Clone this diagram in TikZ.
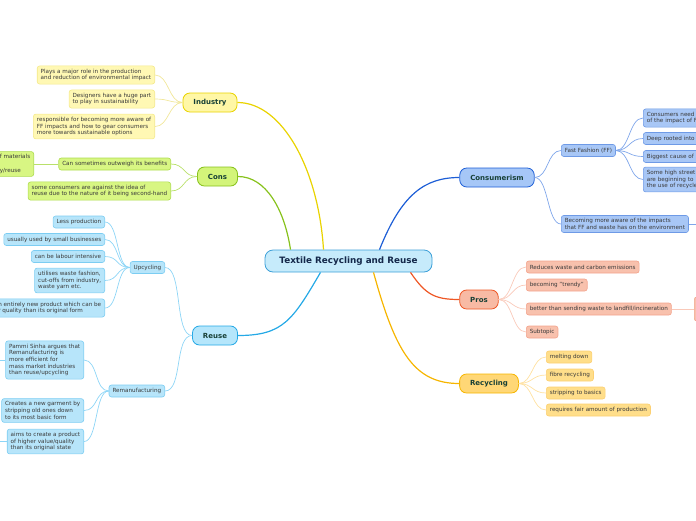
\documentclass[tikz,border=0pt]{standalone}
\usepackage{fontspec}
\setmainfont{DejaVu Sans}
\definecolor{rootfill}{HTML}{C6EBFB}
\definecolor{rootline}{HTML}{3DA0D8}
\definecolor{roottext}{HTML}{14284A}
\definecolor{topictext}{HTML}{174036}
\definecolor{leaftext}{HTML}{3A3A3A}
\definecolor{indfill}{HTML}{FFF7A6}
\definecolor{indline}{HTML}{E9D300}
\definecolor{indleaffill}{HTML}{FFF8B4}
\definecolor{indleafline}{HTML}{F4E98A}
\definecolor{indsubcol}{HTML}{F1E79A}
\definecolor{consfill}{HTML}{D3F47A}
\definecolor{consline}{HTML}{87C21C}
\definecolor{consleaffill}{HTML}{D8F683}
\definecolor{consleafline}{HTML}{ADDC4E}
\definecolor{conssubcol}{HTML}{B9E06A}
\definecolor{reusefill}{HTML}{B5E6FB}
\definecolor{reuseline}{HTML}{25A9E6}
\definecolor{reuseleaffill}{HTML}{B7E5FA}
\definecolor{reuseleafline}{HTML}{7CCDF2}
\definecolor{reusesubcol}{HTML}{8DD5F6}
\definecolor{cmrfill}{HTML}{A6C7F7}
\definecolor{cmrline}{HTML}{1D5ED6}
\definecolor{cmrleaffill}{HTML}{A8C7F6}
\definecolor{cmrleafline}{HTML}{6E9AE6}
\definecolor{cmrsubcol}{HTML}{7FA6EA}
\definecolor{prosfill}{HTML}{F8BAA4}
\definecolor{prosline}{HTML}{EE5725}
\definecolor{prosleaffill}{HTML}{F8C1AD}
\definecolor{prosleafline}{HTML}{F3A38C}
\definecolor{prossubcol}{HTML}{F9C9B9}
\definecolor{recfill}{HTML}{FFD776}
\definecolor{recline}{HTML}{F6B500}
\definecolor{recleaffill}{HTML}{FFDE8A}
\definecolor{recleafline}{HTML}{FCD072}
\definecolor{recsubcol}{HTML}{FFE1A0}
\tikzset{
	root/.style={draw=rootline, fill=rootfill, line width=0.8pt, rounded corners=8pt, minimum width=167pt, minimum height=22pt, text=roottext, font=\bfseries\fontsize{8.8}{10}\selectfont},
	topic/.style={line width=0.8pt, rounded corners=7pt, minimum height=19pt, inner xsep=10.5pt, text=topictext, font=\bfseries\fontsize{7}{8}\selectfont},
	leaf/.style={line width=0.6pt, rounded corners=2.5pt, minimum height=12pt, inner xsep=3.5pt, inner ysep=3pt, align=left, text=leaftext, font=\fontsize{5.65}{6.7}\selectfont},
	indleaf/.style={leaf, draw=indleafline, fill=indleaffill, anchor=east},
	consleaf/.style={leaf, draw=consleafline, fill=consleaffill, anchor=east},
	reuseleaf/.style={leaf, draw=reuseleafline, fill=reuseleaffill, anchor=east},
	cmrleaf/.style={leaf, draw=cmrleafline, fill=cmrleaffill, anchor=west},
	prosleaf/.style={leaf, draw=prosleafline, fill=prosleaffill, anchor=west},
	recleaf/.style={leaf, draw=recleafline, fill=recleaffill, anchor=west},
}
\begin{document}
\begin{tikzpicture}[x=1pt, y=-1pt]
	\useasboundingbox (0,0) rectangle (696,520);
	\clip (0,0) rectangle (696,520);

	\node[root] (root) at (348.5,261) {Textile Recycling and Reuse};

	\node[topic, draw=indline, fill=indfill] (ind) at (210,102.5) {Industry};
	\node[topic, draw=consline, fill=consfill] (cons) at (217.5,176.5) {Cons};
	\node[topic, draw=reuseline, fill=reusefill] (reuse) at (215,335.5) {Reuse};
	\node[topic, draw=cmrline, fill=cmrfill] (cmr) at (497,177.5) {Consumerism};
	\node[topic, draw=prosline, fill=prosfill] (pros) at (479,299.5) {Pros};
	\node[topic, draw=recline, fill=recfill] (rec) at (489,383.5) {Recycling};

	\draw[indline, line width=1.2pt] ([xshift=-25pt]root.north) .. controls +(-5,-80) and +(45,0) .. (ind.east);
	\draw[consline, line width=1.2pt] ([xshift=-58pt]root.north) .. controls +(-6,-40) and +(28,0) .. (cons.east);
	\draw[cmrline, line width=1.2pt] ([xshift=31pt]root.north) .. controls +(22,-55) and +(-35,0) .. (cmr.west);
	\draw[prosline, line width=1.2pt] ([xshift=62pt]root.south) .. controls +(15,22) and +(-25,0) .. (pros.west);
	\draw[recline, line width=1.2pt] ([xshift=25pt]root.south) .. controls +(22,80) and +(-45,0) .. (rec.west);
	\draw[reuseline, line width=1.2pt] ([xshift=-28pt]root.south) .. controls +(-28,48) and +(45,0) .. (reuse.east);

	\node[indleaf] (ia) at (155,75) {Plays a major role in the production\\and reduction of environmental impact};
	\node[indleaf] (ib) at (155,99) {Designers have a huge part\\to play in sustainability};
	\node[indleaf] (ic) at (155,126.5) {responsible for becoming more aware of\\FF impacts and how to gear consumers\\more towards sustainable options};
	\foreach \c in {ia,ib,ic}
		\draw[indsubcol, line width=0.7pt] (ind.west) .. controls +(-14,0) and +(14,0) .. (\c.east);

	\node[consleaf] (ca) at (171,164) {Can sometimes outweigh its benefits};
	\node[consleaf] (cb) at (171,191) {some consumers are against the idea of\\reuse due to the nature of it being second-hand};
	\node[consleaf] (caa) at (34,164) {f materials\\[6.7pt]y/reuse};
	\foreach \c in {ca,cb}
		\draw[conssubcol, line width=0.7pt] (cons.west) .. controls +(-14,0) and +(14,0) .. (\c.east);
	\draw[conssubcol, line width=0.7pt] (ca.west) -- (caa.east);

	\node[reuseleaf] (up) at (165,267.5) {Upcycling};
	\node[reuseleaf] (rem) at (165,391) {Remanufacturing};
	\foreach \c in {up,rem}
		\draw[reusesubcol, line width=0.7pt] (reuse.west) .. controls +(-18,0) and +(18,0) .. (\c.east);

	\node[reuseleaf] (ua) at (105,222) {Less production};
	\node[reuseleaf] (ub) at (105,239.5) {usually used by small businesses};
	\node[reuseleaf] (uc) at (105,256.5) {can be labour intensive};
	\node[reuseleaf] (ud) at (105,280.5) {utilises waste fashion,\\cut-offs from industry,\\waste yarn etc.};
	\node[reuseleaf] (ue) at (105,308) {n entirely new product which can be\\r quality than its original form};
	\foreach \c in {ua,ub,uc,ud,ue}
		\draw[reusesubcol, line width=0.7pt] (up.west) .. controls +(-14,0) and +(14,0) .. (\c.east);

	\node[reuseleaf] (ra) at (84,360) {Pammi Sinha argues that\\Remanufacturing is\\more efficient for\\mass market industries\\than reuse/upcycling};
	\node[reuseleaf] (rb) at (84,410.5) {Creates a new garment by\\stripping old ones down\\to its most basic form};
	\node[reuseleaf] (rc) at (84,441.5) {aims to create a product\\of higher value/quality\\than its original state};
	\foreach \c in {ra,rb,rc}
		\draw[reusesubcol, line width=0.7pt] (rem.west) .. controls +(-14,0) and +(14,0) .. (\c.east);
	\coordinate (raout) at (-6,360);
	\coordinate (rcout) at (-6,441.5);
	\draw[reusesubcol, line width=0.7pt] (ra.west) -- (raout);
	\draw[reusesubcol, line width=0.7pt] (rc.west) -- (rcout);

	\node[cmrleaf] (ff) at (561,150.5) {Fast Fashion (FF)};
	\node[cmrleaf] (aware) at (561,224) {Becoming more aware of the impacts\\that FF and waste has on the environment};
	\foreach \c in {ff,aware}
		\draw[cmrsubcol, line width=0.7pt] (cmr.east) .. controls +(14,0) and +(-14,0) .. (\c.west);
	\coordinate (awareout) at (702,224);
	\draw[cmrsubcol, line width=0.7pt] (aware.east) -- (awareout);

	\node[cmrleaf, text width=70pt] (fa) at (643,118) {Consumers need t\\of the impact of F};
	\node[cmrleaf, text width=70pt] (fb) at (643,138.5) {Deep rooted into};
	\node[cmrleaf, text width=70pt] (fc) at (643,156.5) {Biggest cause of};
	\node[cmrleaf, text width=70pt] (fd) at (643,179.5) {Some high street\\are beginning to\\the use of recycle};
	\foreach \c in {fa,fb,fc,fd}
		\draw[cmrsubcol, line width=0.7pt] (ff.east) .. controls +(14,0) and +(-14,0) .. (\c.west);

	\node[prosleaf] (pa) at (526,267) {Reduces waste and carbon emissions};
	\node[prosleaf] (pb) at (526,285) {becoming "trendy"};
	\node[prosleaf] (pc) at (526,309) {better than sending waste to landfill/incineration};
	\node[prosleaf] (pd) at (526,332) {Subtopic};
	\node[prosleaf, minimum width=20pt, minimum height=24pt] (pe) at (694,309) {};
	\foreach \c in {pa,pb,pc,pd}
		\draw[prossubcol, line width=0.7pt] (pros.east) .. controls +(14,0) and +(-14,0) .. (\c.west);
	\draw[prossubcol, line width=0.7pt] (pc.east) -- (pe.west);

	\node[recleaf] (ya) at (546,357) {melting down};
	\node[recleaf] (yb) at (546,375) {fibre recycling};
	\node[recleaf] (yc) at (546,393) {stripping to basics};
	\node[recleaf] (yd) at (546,410) {requires fair amount of production};
	\foreach \c in {ya,yb,yc,yd}
		\draw[recsubcol, line width=0.7pt] (rec.east) .. controls +(14,0) and +(-14,0) .. (\c.west);
\end{tikzpicture}
\end{document}
